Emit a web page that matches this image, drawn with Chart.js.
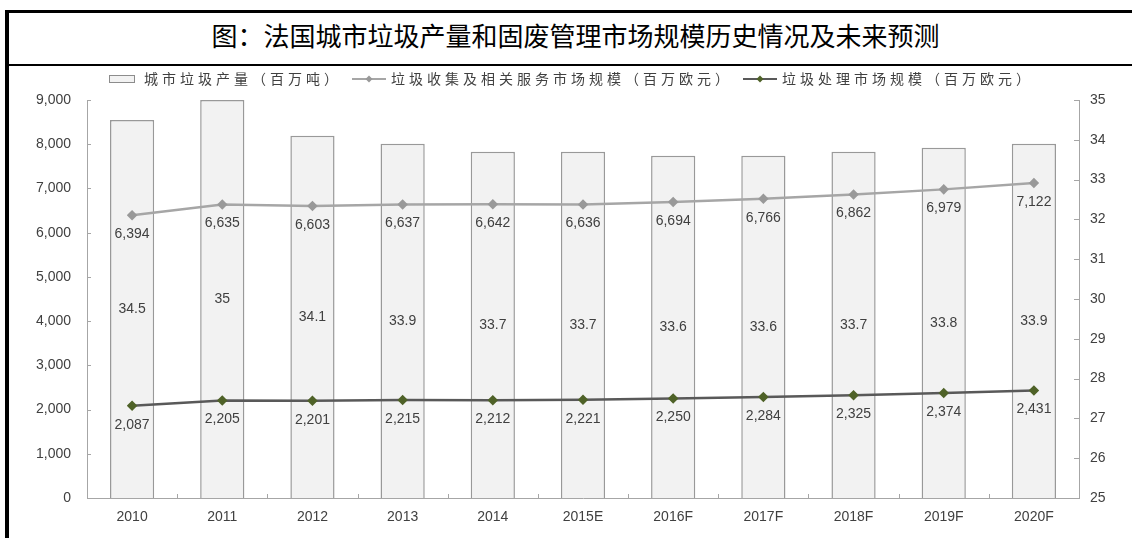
<!DOCTYPE html>
<html>
<head>
<meta charset="utf-8">
<script src="https://cdn.jsdelivr.net/npm/chart.js@4"></script>
<style>
    body { margin: 0; width: 1132px; height: 538px; overflow: hidden; background: #fff; font-family: "Noto Sans CJK SC", sans-serif; }
    #frame { position: absolute; left: 5px; top: 10px; width: 1123px; height: 528px; border-left: 4px solid #000; border-top: 3px solid #000; }
    #title { height: 51px; line-height: 44px; border-bottom: 2px solid #000; text-align: center; font-size: 26px; color: #000; padding-left: 10px; }
    #wrap { position: absolute; left: 9px; top: 66px; width: 1123px; height: 472px; }
</style>
</head>
<body>
<div id="frame"><div id="title">图：法国城市垃圾产量和固废管理市场规模历史情况及未来预测</div></div>
<div id="wrap"><canvas id="chart"></canvas></div>
<script>
const years = ["2010", "2011", "2012", "2013", "2014", "2015E", "2016F", "2017F", "2018F", "2019F", "2020F"];
const wasteOutput = [34.5, 35, 34.1, 33.9, 33.7, 33.7, 33.6, 33.6, 33.7, 33.8, 33.9];
const collectionMarket = [6394, 6635, 6603, 6637, 6642, 6636, 6694, 6766, 6862, 6979, 7122];
const treatmentMarket = [2087, 2205, 2201, 2215, 2212, 2221, 2250, 2284, 2325, 2374, 2431];
const leftRange = [0, 9000, 1000];
const rightRange = [25, 35, 1];
const seriesNames = ["城市垃圾产量（百万吨）", "垃圾收集及相关服务市场规模（百万欧元）", "垃圾处理市场规模（百万欧元）"];

const numFont = '"Liberation Sans", Arial, sans-serif';
const textColor = "#404040";
const axisColor = "#a6a6a6";

// small legend swatches: a hollow bar and two lines with a diamond marker
function swatch(kind, lineColor, dotColor) {
    const c = document.createElement("canvas");
    const g = c.getContext("2d");
    if (kind === "bar") {
        c.width = 26; c.height = 10;
        g.fillStyle = "#f2f2f2";
        g.strokeStyle = "#8c8c8c";
        g.lineWidth = 1;
        g.fillRect(0.5, 1.5, 25, 7);
        g.strokeRect(0.5, 1.5, 25, 7);
    } else {
        c.width = 34; c.height = 10;
        g.strokeStyle = lineColor;
        g.lineWidth = 2;
        g.beginPath(); g.moveTo(0, 5); g.lineTo(34, 5); g.stroke();
        g.fillStyle = dotColor;
        g.beginPath(); g.moveTo(17, 1.5); g.lineTo(20.5, 5); g.lineTo(17, 8.5); g.lineTo(13.5, 5); g.closePath(); g.fill();
    }
    return c;
}
const swatches = [
    swatch("bar"),
    swatch("line", "#a6a6a6", "#999999"),
    swatch("line", "#595959", "#4f6228")
];

// legend text is spaced out like the original typesetting
const spacedLegend = {
    id: "spacedLegend",
    afterInit(chart) {
        const lg = chart.legend;
        const fit = lg.fit, draw = lg.draw;
        lg.fit = function () {
            this.ctx.save();
            this.ctx.letterSpacing = "4px";
            fit.call(this);
            this.ctx.restore();
            this.height = 34;
        };
        lg.draw = function () {
            this.ctx.save();
            this.ctx.letterSpacing = "4px";
            this.ctx.translate(0, -6);
            draw.call(this);
            this.ctx.restore();
        };
    }
};

// short tick marks pointing into the plot
const innerTicks = {
    id: "innerTicks",
    afterDraw(chart) {
        const { ctx, scales: { x, y, y1 } } = chart;
        ctx.save();
        ctx.strokeStyle = axisColor;
        ctx.lineWidth = 1;
        ctx.beginPath();
        for (let i = 1; i < years.length; i++) {
            const px = Math.round((x.getPixelForTick(i - 1) + x.getPixelForTick(i)) / 2) + 0.5;
            ctx.moveTo(px, x.top); ctx.lineTo(px, x.top - 4);
        }
        y.ticks.forEach(t => {
            const py = Math.round(y.getPixelForValue(t.value)) + 0.5;
            ctx.moveTo(y.right, py); ctx.lineTo(y.right + 4, py);
        });
        y1.ticks.forEach(t => {
            const py = Math.round(y1.getPixelForValue(t.value)) + 0.5;
            ctx.moveTo(y1.left, py); ctx.lineTo(y1.left - 5, py);
        });
        ctx.stroke();
        ctx.restore();
    }
};

// value labels: inside the middle of each bar, below each line point
const valueLabels = {
    id: "valueLabels",
    afterDatasetsDraw(chart) {
        const ctx = chart.ctx;
        ctx.save();
        ctx.font = "14px " + numFont;
        ctx.fillStyle = textColor;
        ctx.textAlign = "center";
        ctx.textBaseline = "middle";
        chart.data.datasets.forEach((ds, i) => {
            const meta = chart.getDatasetMeta(i);
            meta.data.forEach((el, j) => {
                const v = ds.data[j];
                if (meta.type === "bar") {
                    const base = meta.yScale.getPixelForValue(rightRange[0]);
                    ctx.fillText(String(v), el.x, (el.y + base) / 2);
                } else {
                    ctx.fillText(v.toLocaleString("en-US"), el.x, el.y + 19);
                }
            });
        });
        ctx.restore();
    }
};

new Chart(document.getElementById("chart"), {
    data: {
        labels: years,
        datasets: [
            {
                type: "bar", label: seriesNames[0], data: wasteOutput, yAxisID: "y1", order: 2,
                backgroundColor: "#f2f2f2", borderColor: "#999999", borderWidth: 1.5,
                barPercentage: 0.49, categoryPercentage: 1
            },
            {
                type: "line", label: seriesNames[1], data: collectionMarket, yAxisID: "y", order: 1,
                borderColor: "#a6a6a6", borderWidth: 2.5, tension: 0,
                pointStyle: "rectRot", pointRadius: 3.5, pointBackgroundColor: "#999999", pointBorderColor: "#999999"
            },
            {
                type: "line", label: seriesNames[2], data: treatmentMarket, yAxisID: "y", order: 0,
                borderColor: "#595959", borderWidth: 2.5, tension: 0,
                pointStyle: "rectRot", pointRadius: 3.5, pointBackgroundColor: "#4f6228", pointBorderColor: "#4f6228"
            }
        ]
    },
    options: {
        responsive: true,
        maintainAspectRatio: false,
        animation: false,
        layout: { padding: 0 },
        plugins: {
            tooltip: { enabled: false },
            legend: {
                position: "top",
                labels: {
                    usePointStyle: true,
                    pointStyleWidth: 30,
                    padding: 12,
                    color: textColor,
                    font: { family: '"Noto Sans CJK SC", sans-serif', size: 14 },
                    generateLabels(chart) {
                        const items = Chart.defaults.plugins.legend.labels.generateLabels(chart);
                        items.sort((a, b) => a.datasetIndex - b.datasetIndex);
                        items.forEach(it => { it.pointStyle = swatches[it.datasetIndex]; });
                        return items;
                    }
                }
            }
        },
        scales: {
            x: {
                grid: { display: false, drawTicks: false },
                border: { color: axisColor, width: 1 },
                ticks: { color: textColor, padding: 11, font: { family: numFont, size: 14 } },
                afterFit(s) { s.height = 40; }
            },
            y: {
                position: "left",
                min: leftRange[0], max: leftRange[1],
                grid: { display: false, drawTicks: false },
                border: { color: axisColor, width: 1 },
                ticks: {
                    stepSize: leftRange[2], color: textColor, padding: 16,
                    font: { family: numFont, size: 14 },
                    callback: v => v.toLocaleString("en-US")
                },
                afterFit(s) { s.width = 78; }
            },
            y1: {
                position: "right",
                min: rightRange[0], max: rightRange[1],
                grid: { display: false, drawTicks: false },
                border: { color: axisColor, width: 1 },
                ticks: { stepSize: rightRange[2], color: textColor, padding: 11, font: { family: numFont, size: 14 } },
                afterFit(s) { s.width = 53; }
            }
        }
    },
    plugins: [spacedLegend, innerTicks, valueLabels]
});
</script>
</body>
</html>
